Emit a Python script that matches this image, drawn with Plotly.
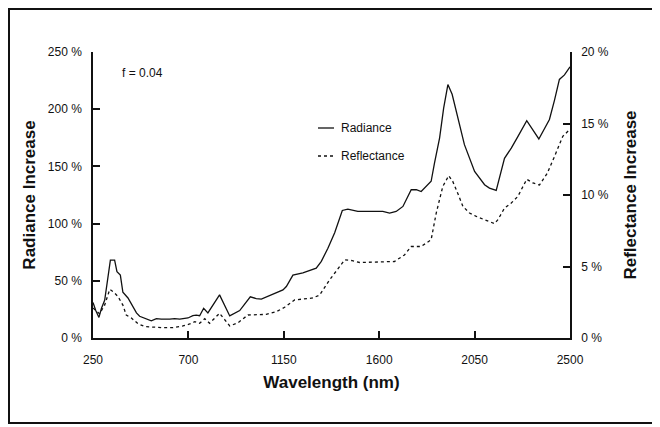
import plotly.graph_objects as go

# Radiance increase (%), left axis
radiance_wl = [250, 263, 278, 290, 305, 321, 332, 352, 363, 379, 391, 415, 431, 455, 470,
               502, 525, 549, 572, 612, 635, 659, 698, 721, 737, 753, 772, 792, 847, 895,
               942, 992, 1020, 1044, 1091, 1146, 1162, 1193, 1240, 1303, 1327, 1358, 1390,
               1426, 1452, 1499, 1617, 1649, 1680, 1712, 1751, 1775, 1798, 1845, 1861, 1885,
               1904, 1924, 1944, 1963, 2002, 2050, 2097, 2120, 2152, 2191, 2223, 2254, 2296,
               2353, 2403, 2427, 2450, 2474, 2500]
radiance_pct = [31, 24, 18, 26, 33, 56, 68, 68, 58, 55, 40, 35, 30, 22, 19,
                17, 15, 17, 16.5, 16.5, 17, 16.5, 17.5, 19.5, 20, 19.5, 26, 22, 37.7, 19.3,
                24, 36, 34.5, 34, 38, 42, 45, 55, 57, 61, 67, 78.5, 92,
                111.5, 112.7, 110.6, 110.6, 109.2, 110.6, 115, 129.6, 129.6, 128, 137, 153, 175,
                201, 221.5, 213, 198, 169, 145.6, 134, 131, 129, 157, 166, 176, 190,
                174, 191, 208, 226, 230, 237]

# Reflectance increase (%), right axis
reflect_wl = [250, 265, 281, 305, 329, 348, 368, 391, 407, 431, 462, 494, 533, 580, 627,
              674, 706, 730, 753, 777, 800, 847, 895, 934, 981, 1020, 1067, 1115, 1154,
              1201, 1287, 1319, 1366, 1437, 1468, 1508, 1672, 1719, 1751, 1798, 1845, 1869,
              1900, 1928, 1947, 1971, 1995, 2026, 2058, 2097, 2144, 2160, 2191, 2223, 2254,
              2296, 2325, 2356, 2392, 2427, 2466, 2500]
reflect_pct = [2.1, 1.9, 1.7, 2.3, 3.4, 3.2, 2.9, 2.3, 1.6, 1.4, 1.0, 0.8, 0.75, 0.72, 0.72,
               0.84, 0.98, 1.14, 1.03, 1.35, 1.03, 1.73, 0.84, 1.07, 1.61, 1.61, 1.65, 1.84, 2.15,
               2.66, 2.8, 3.0, 4.06, 5.46, 5.42, 5.28, 5.35, 5.81, 6.4, 6.4, 6.87, 8.74,
               10.6, 11.35, 10.95, 10.1, 9.2, 8.74, 8.5, 8.27, 8.0, 8.27, 9.08, 9.44, 9.9,
               11.1, 10.84, 10.7, 11.5, 12.7, 14.1, 14.6]

x_ticks = [250, 700, 1150, 1600, 2050, 2500]
left_ticks = [0, 50, 100, 150, 200, 250]
right_ticks = [0, 5, 10, 15, 20]

# the page body has an 8px margin, so the figure is a bit smaller than the window
OFF = 8
W, H = 660 - OFF, 427 - OFF
ML, MR, MT, MB = 93 - OFF, 90, 52 - OFF, 89
PW, PH = W - ML - MR, H - MT - MB


def px_x(p):
    # window pixel -> paper x
    return (p - OFF - ML) / PW


def px_y(p):
    # window pixel -> paper y
    return (H - MB - (p - OFF)) / PH


INK = "#111111"
tick_font = dict(family="Liberation Sans, Arial", size=12, color=INK)
title_font = dict(family="Liberation Sans, Arial", size=17, color=INK, weight="bold")

fig = go.Figure()
fig.add_trace(go.Scatter(x=radiance_wl, y=radiance_pct, mode="lines", name="Radiance",
                         line=dict(color=INK, width=1.3)))
fig.add_trace(go.Scatter(x=reflect_wl, y=reflect_pct, mode="lines", name="Reflectance",
                         yaxis="y2", line=dict(color=INK, width=1.3, dash="3px,3px")))

axis_common = dict(showgrid=False, zeroline=False, showline=True, linecolor=INK, linewidth=1.5,
                   ticks="inside", ticklen=7, tickwidth=1.5, tickcolor=INK, tickfont=tick_font)

fig.update_layout(
    width=W, height=H,
    margin=dict(l=ML, r=MR, t=MT, b=MB),
    paper_bgcolor="white", plot_bgcolor="white",
    showlegend=False,
    xaxis=dict(range=[250, 2500], tickvals=x_ticks, ticktext=[str(v) for v in x_ticks],
               ticklabelstandoff=10,
               title=dict(text="Wavelength (nm)", font=title_font, standoff=10), **axis_common),
    yaxis=dict(range=[0, 250], tickvals=left_ticks, ticktext=[f"{v} %" for v in left_ticks],
               ticklabelstandoff=7,
               title=dict(text="Radiance Increase", font=title_font, standoff=8), **axis_common),
    yaxis2=dict(range=[0, 20], tickvals=right_ticks, ticktext=[f"{v} %" for v in right_ticks],
                overlaying="y", side="right", ticklabelstandoff=7,
                title=dict(text="Reflectance Increase", font=title_font, standoff=16), **axis_common),
)

# outer frame
fig.add_shape(type="rect", xref="paper", yref="paper",
              x0=px_x(9), x1=px_x(655), y0=px_y(423), y1=px_y(9),
              line=dict(color=INK, width=2), layer="below")

# f annotation
fig.add_annotation(x=px_x(120), y=px_y(73), xref="paper", yref="paper", text="f = 0.04",
                   showarrow=False, xanchor="left", yanchor="middle", font=tick_font)

# hand-made legend
for label, dash, ypx in [("Radiance", "solid", 128), ("Reflectance", "3px,3px", 156)]:
    fig.add_shape(type="line", xref="paper", yref="paper",
                  x0=px_x(318), x1=px_x(334), y0=px_y(ypx), y1=px_y(ypx),
                  line=dict(color=INK, width=1.3, dash=dash))
    fig.add_annotation(x=px_x(339), y=px_y(ypx), xref="paper", yref="paper", text=label,
                       showarrow=False, xanchor="left", yanchor="middle", font=tick_font)

fig.write_html("out.html")
